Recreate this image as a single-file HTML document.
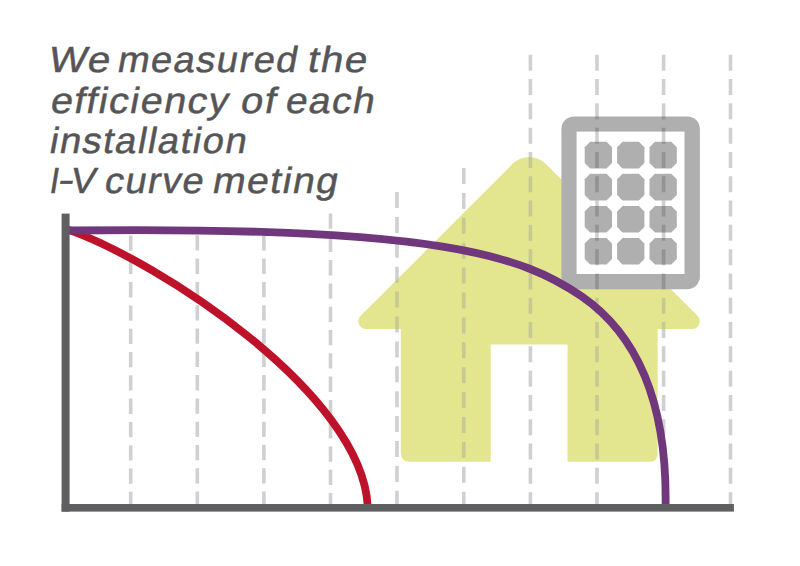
<!DOCTYPE html>
<html><head><meta charset="utf-8"><style>
html,body{margin:0;padding:0;background:#fff;width:800px;height:566px;overflow:hidden;position:relative}
svg{position:absolute;left:0;top:0}
span{position:absolute;font-family:"Liberation Sans",sans-serif;font-style:normal;font-size:36.4px;line-height:1;color:#555557;-webkit-text-stroke:0.5px #555557;white-space:nowrap;transform-origin:0 30.813px;letter-spacing:1.5px}
</style></head><body>
<svg width="800" height="566" viewBox="0 0 800 566">
<defs>
<clipPath id="hc"><path d="M545.41,163.61 L697.48,315.68 A7.80,7.80 0 0 1 691.97,329.00 L657.60,329.00 L657.60,454.80 A7.00,7.00 0 0 1 650.60,461.80 L567.50,461.80 L567.50,344.60 L490.70,344.60 L490.70,461.80 L408.80,461.80 A8.00,8.00 0 0 1 400.80,453.80 L400.80,329.00 L366.09,329.00 A7.70,7.70 0 0 1 360.64,315.86 L512.89,163.61 A23.00,23.00 0 0 1 545.41,163.61Z"/></clipPath>
<mask id="nm" maskUnits="userSpaceOnUse" x="0" y="0" width="800" height="566"><rect width="800" height="566" fill="#fff"/><path d="M545.41,163.61 L697.48,315.68 A7.80,7.80 0 0 1 691.97,329.00 L657.60,329.00 L657.60,454.80 A7.00,7.00 0 0 1 650.60,461.80 L567.50,461.80 L567.50,344.60 L490.70,344.60 L490.70,461.80 L408.80,461.80 A8.00,8.00 0 0 1 400.80,453.80 L400.80,329.00 L366.09,329.00 A7.70,7.70 0 0 1 360.64,315.86 L512.89,163.61 A23.00,23.00 0 0 1 545.41,163.61Z" fill="#000"/><rect x="561.4" y="116.4" width="138.5" height="172.8" rx="12.7" fill="#fff"/></mask>
</defs>
<path d="M545.41,163.61 L697.48,315.68 A7.80,7.80 0 0 1 691.97,329.00 L657.60,329.00 L657.60,454.80 A7.00,7.00 0 0 1 650.60,461.80 L567.50,461.80 L567.50,344.60 L490.70,344.60 L490.70,461.80 L408.80,461.80 A8.00,8.00 0 0 1 400.80,453.80 L400.80,329.00 L366.09,329.00 A7.70,7.70 0 0 1 360.64,315.86 L512.89,163.61 A23.00,23.00 0 0 1 545.41,163.61Z" fill="#e3e68e"/>
<g stroke="rgba(70,70,170,0.18)" stroke-width="3.6" fill="none" clip-path="url(#hc)"><line x1="130.70" y1="235.50" x2="130.70" y2="504" stroke-dasharray="15.30 8.00"/><line x1="197.30" y1="235.30" x2="197.30" y2="504" stroke-dasharray="15.30 8.00"/><line x1="263.90" y1="235.30" x2="263.90" y2="504" stroke-dasharray="15.30 8.00"/><line x1="330.50" y1="213.50" x2="330.50" y2="504" stroke-dasharray="15.30 8.00"/><line x1="397.00" y1="192.00" x2="397.00" y2="504" stroke-dasharray="16.00 8.90"/><line x1="463.75" y1="168.00" x2="463.75" y2="504" stroke-dasharray="16.00 8.90"/><line x1="530.40" y1="54.75" x2="530.40" y2="504" stroke-dasharray="16.00 8.30"/><line x1="597.00" y1="54.75" x2="597.00" y2="504" stroke-dasharray="16.00 8.30"/><line x1="663.60" y1="54.75" x2="663.60" y2="504" stroke-dasharray="16.00 8.30"/><line x1="730.50" y1="54.75" x2="730.50" y2="504" stroke-dasharray="16.00 8.30"/></g>
<rect x="561.4" y="116.4" width="138.5" height="172.8" rx="12.7" fill="#afafaf"/>
<rect x="576.6" y="131.6" width="107.9" height="142.4" fill="#fff"/>
<g fill="#afafaf"><polygon points="590.2,141.8 606.5,141.8 612.0,147.3 612.0,162.9 606.5,168.4 590.2,168.4 584.7,162.9 584.7,147.3"/><polygon points="590.2,173.8 606.5,173.8 612.0,179.3 612.0,194.9 606.5,200.4 590.2,200.4 584.7,194.9 584.7,179.3"/><polygon points="590.2,205.9 606.5,205.9 612.0,211.4 612.0,227.0 606.5,232.5 590.2,232.5 584.7,227.0 584.7,211.4"/><polygon points="590.2,237.9 606.5,237.9 612.0,243.4 612.0,259.0 606.5,264.5 590.2,264.5 584.7,259.0 584.7,243.4"/><polygon points="622.6,141.8 638.9,141.8 644.4,147.3 644.4,162.9 638.9,168.4 622.6,168.4 617.1,162.9 617.1,147.3"/><polygon points="622.6,173.8 638.9,173.8 644.4,179.3 644.4,194.9 638.9,200.4 622.6,200.4 617.1,194.9 617.1,179.3"/><polygon points="622.6,205.9 638.9,205.9 644.4,211.4 644.4,227.0 638.9,232.5 622.6,232.5 617.1,227.0 617.1,211.4"/><polygon points="622.6,237.9 638.9,237.9 644.4,243.4 644.4,259.0 638.9,264.5 622.6,264.5 617.1,259.0 617.1,243.4"/><polygon points="655.0,141.8 671.3,141.8 676.8,147.3 676.8,162.9 671.3,168.4 655.0,168.4 649.5,162.9 649.5,147.3"/><polygon points="655.0,173.8 671.3,173.8 676.8,179.3 676.8,194.9 671.3,200.4 655.0,200.4 649.5,194.9 649.5,179.3"/><polygon points="655.0,205.9 671.3,205.9 676.8,211.4 676.8,227.0 671.3,232.5 655.0,232.5 649.5,227.0 649.5,211.4"/><polygon points="655.0,237.9 671.3,237.9 676.8,243.4 676.8,259.0 671.3,264.5 655.0,264.5 649.5,259.0 649.5,243.4"/></g>
<g stroke="rgba(60,60,60,0.24)" stroke-width="3.6" fill="none" mask="url(#nm)"><line x1="130.70" y1="235.50" x2="130.70" y2="504" stroke-dasharray="15.30 8.00"/><line x1="197.30" y1="235.30" x2="197.30" y2="504" stroke-dasharray="15.30 8.00"/><line x1="263.90" y1="235.30" x2="263.90" y2="504" stroke-dasharray="15.30 8.00"/><line x1="330.50" y1="213.50" x2="330.50" y2="504" stroke-dasharray="15.30 8.00"/><line x1="397.00" y1="192.00" x2="397.00" y2="504" stroke-dasharray="16.00 8.90"/><line x1="463.75" y1="168.00" x2="463.75" y2="504" stroke-dasharray="16.00 8.90"/><line x1="530.40" y1="54.75" x2="530.40" y2="504" stroke-dasharray="16.00 8.30"/><line x1="597.00" y1="54.75" x2="597.00" y2="504" stroke-dasharray="16.00 8.30"/><line x1="663.60" y1="54.75" x2="663.60" y2="504" stroke-dasharray="16.00 8.30"/><line x1="730.50" y1="54.75" x2="730.50" y2="504" stroke-dasharray="16.00 8.30"/></g>
<path d="M68.0,229.6 C157.5,260.9 361.9,393.1 367.7,506.0" stroke="#bd1229" stroke-width="7.8" fill="none"/>
<path d="M68.0,230.5 C440.9,225.9 523.0,256.3 581.5,296.3 C609.5,315.5 667.7,364.3 665.6,506.0" stroke="#70377d" stroke-width="7.8" fill="none"/>
<rect x="61.6" y="213.6" width="8" height="298" fill="#5f5f61"/>
<rect x="61.6" y="504" width="672.3" height="7.6" fill="#5f5f61"/>
</svg>
<span style="left:46.88px;top:41.99px;transform:scaleX(1.1049) skewX(-10.0deg)">We</span><span style="left:116.28px;top:41.99px;transform:scaleX(1.0413) skewX(-10.0deg)">measured</span><span style="left:305.79px;top:41.99px;transform:scaleX(1.1039) skewX(-10.0deg)">the</span><span style="left:49.16px;top:82.69px;transform:scaleX(1.0794) skewX(-10.0deg)">efficiency</span><span style="left:238.92px;top:82.69px;transform:scaleX(1.0941) skewX(-10.0deg)">of</span><span style="left:283.61px;top:82.69px;transform:scaleX(1.0630) skewX(-10.0deg)">each</span><span style="left:48.47px;top:122.59px;transform:scaleX(1.0441) skewX(-10.0deg)">installation</span><span style="left:47.93px;top:162.99px;transform:scaleX(0.9222) skewX(-10.0deg)">I</span><span style="left:55.97px;top:162.09px;transform:scaleX(1.3100) skewX(-10.0deg)">-</span><span style="left:69.20px;top:162.99px;transform:scaleX(1.0208) skewX(-10.0deg)">V</span><span style="left:103.48px;top:162.99px;transform:scaleX(1.0398) skewX(-10.0deg)">curve</span><span style="left:211.39px;top:162.99px;transform:scaleX(1.0713) skewX(-10.0deg)">meting</span>
</body></html>
